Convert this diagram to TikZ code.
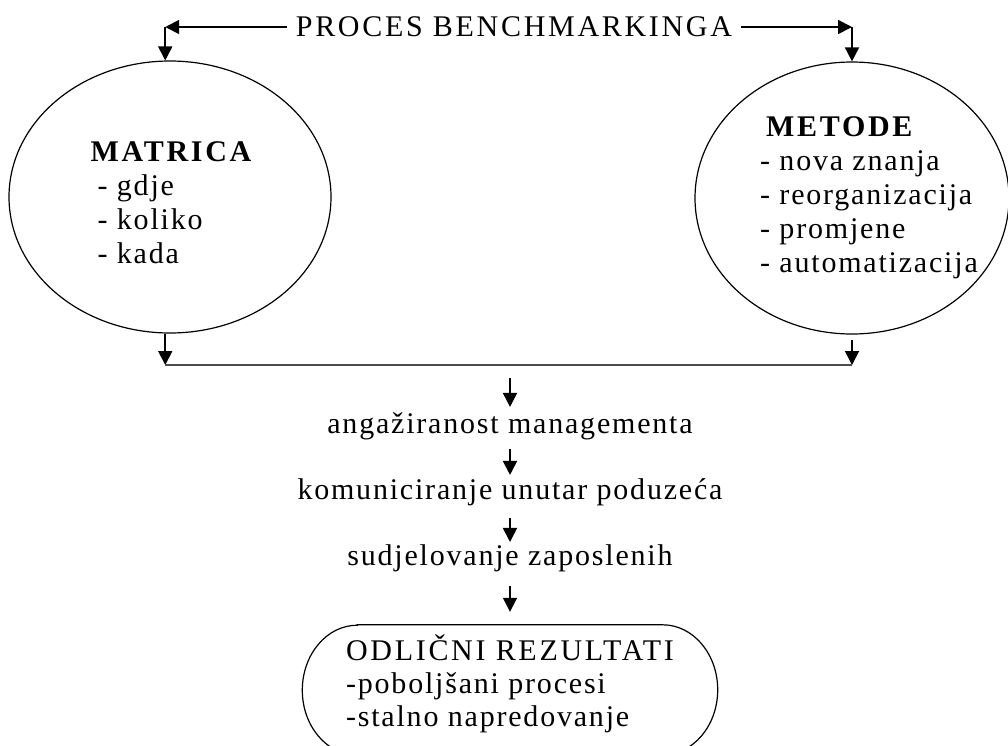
\documentclass[tikz,border=0pt]{standalone}
\usepackage{fontspec}
\setmainfont{Liberation Serif}[LetterSpace=6]
\newfontfamily\capsfont{Liberation Serif}[LetterSpace=9]
\usetikzlibrary{shapes.geometric,arrows.meta}

\begin{document}
\begin{tikzpicture}[x=1pt,y=-1pt]
	\tikzstyle{every node}=[font=\fontsize{30}{34}\selectfont]
	\tikzstyle{oval}=[ellipse, draw, line width=1.2pt, inner sep=0pt]
	\tikzstyle{flow}=[draw, -{Triangle[length=14pt,width=14pt]}, line width=1.8pt]
	\tikzstyle{steptext}=[anchor=base, inner sep=2pt]

	\useasboundingbox (0,0) rectangle (1008,745);
	\clip (0,0) rectangle (1008,745);

	\node[inner xsep=9pt, inner ysep=2pt] (title) at (514,27) {\capsfont PROCES BENCHMARKINGA};

	\node[oval, minimum width=322pt, minimum height=272pt] (matrica) at (170,197) {};
	\node[oval, minimum width=314pt, minimum height=272pt] (metode) at (852,198) {};
	\node[align=left, inner sep=0pt] (matricatxt) at (171,203)
		{{\capsfont\bfseries MATRICA}\\\hspace{7pt}- gdje\\\hspace{7pt}- koliko\\\hspace{7pt}- kada};
	\node[align=left, inner sep=0pt] (metodetxt) at (869,198)
		{\hspace{6pt}{\capsfont\bfseries METODE}\\- nova znanja\\- reorganizacija\\- promjene\\- automatizacija};

	\coordinate (cl) at (matrica.92 |- title.west);
	\coordinate (cr) at (metode.north |- title.east);
	\draw[flow] (title.west) -- (cl);
	\draw[flow] (cl) -- (matrica.92);
	\draw[flow] (title.east) -- (cr);
	\draw[flow] (cr) -- (metode.north);

	% joining line under the two ovals
	\coordinate (joinline) at (510,365);
	\draw[flow] (matrica.268) -- (matrica.268 |- joinline);
	\draw[flow, shorten <=5pt] (metode.south) -- (metode.south |- joinline);
	\draw[line width=2.4pt, draw=black!70] (matrica.268 |- joinline) -- (metode.south |- joinline);

	\coordinate (chain) at (510,378);
	\node[steptext] (angaz) at (510,433) {angažiranost managementa};
	\node[steptext] (komun) at (510,499) {komuniciranje unutar poduzeća};
	\node[steptext] (sudj) at (510,565) {sudjelovanje zaposlenih};

	\node[minimum width=415pt, minimum height=130pt, inner sep=0pt] (result) at (510,690) {};
	\node[align=left, inner sep=0pt, font=\fontsize{30}{33}\selectfont] (resulttxt) at (510,684)
		{{\capsfont ODLIČNI REZULTATI}\\-poboljšani procesi\\-stalno napredovanje};
	\draw[line width=1.2pt] ([xshift=55pt]result.north west) -- ([xshift=-55pt]result.north east)
		arc[start angle=90, end angle=-90, x radius=55pt, y radius=65pt]
		-- ([xshift=55pt]result.south west)
		arc[start angle=-90, end angle=-270, x radius=55pt, y radius=65pt] -- cycle;

	\draw[flow, shorten >=3pt] (chain) -- (angaz);
	\draw[flow, shorten <=7pt, shorten >=1pt] (angaz) -- (komun);
	\draw[flow, shorten <=10pt] (komun) -- (sudj);
	\draw[flow, shorten <=12pt, shorten >=13pt] (sudj) -- (result);
\end{tikzpicture}
\end{document}
